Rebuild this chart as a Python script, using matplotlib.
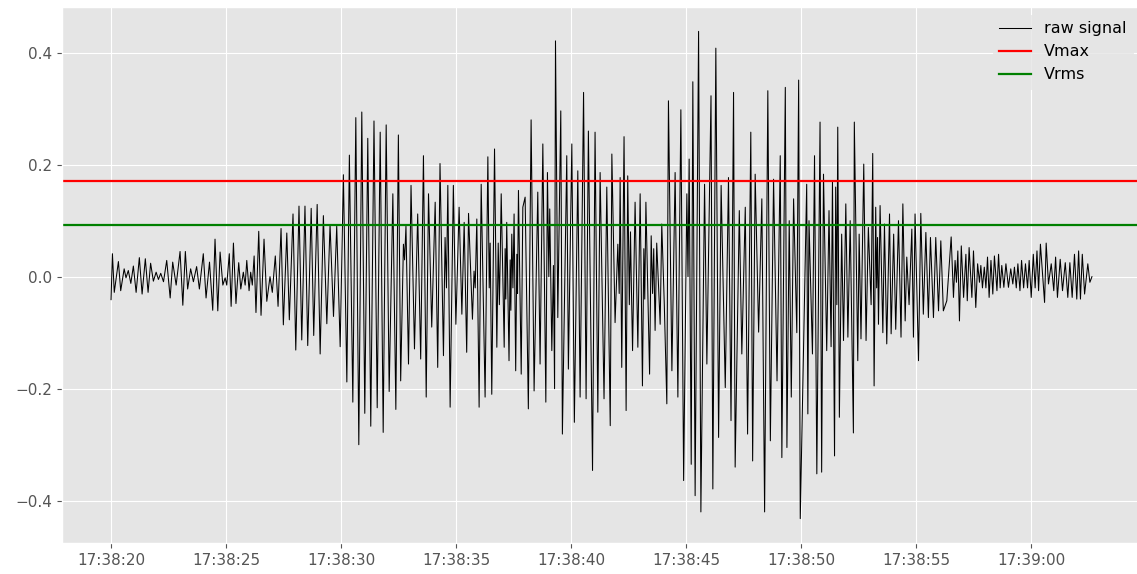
import numpy as np
import matplotlib
matplotlib.use("Agg")
import matplotlib.pyplot as plt
import matplotlib.dates as mdates

# ---- data (seconds after 17:38:20, signal value) ----
start_time = "2020-01-01T17:38:20"

t_sec = [
    0.00, 0.06, 0.14, 0.32, 0.42, 0.57, 0.65, 0.75, 0.86, 0.97, 1.09, 1.23, 1.35, 1.49, 1.61, 1.72, 1.84, 1.96,
    2.06, 2.16, 2.28, 2.42, 2.57, 2.68, 2.83, 3.00, 3.12, 3.23, 3.33, 3.46, 3.58, 3.72, 3.84, 4.01, 4.13, 4.28,
    4.42, 4.52, 4.64, 4.74, 4.86, 4.96, 5.03, 5.14, 5.22, 5.32, 5.43, 5.55, 5.64, 5.75, 5.83, 5.90, 6.00, 6.07,
    6.14, 6.22, 6.30, 6.42, 6.52, 6.65, 6.77, 6.91, 7.01, 7.14, 7.26, 7.39, 7.49, 7.64, 7.75, 7.91, 8.03, 8.17,
    8.29, 8.43, 8.55, 8.70, 8.81, 8.96, 9.09, 9.23, 9.38, 9.52, 9.67, 9.81, 9.96, 10.10, 10.25, 10.36, 10.51,
    10.64, 10.77, 10.90, 11.03, 11.16, 11.29, 11.43, 11.57, 11.70, 11.83, 11.96, 12.09, 12.25, 12.38, 12.49,
    12.59, 12.71, 12.76, 12.82, 12.93, 13.04, 13.19, 13.33, 13.46, 13.58, 13.70, 13.80, 13.94, 14.09, 14.20,
    14.30, 14.45, 14.52, 14.58, 14.64, 14.74, 14.88, 14.99, 15.13, 15.25, 15.35, 15.46, 15.54, 15.71, 15.78,
    15.83, 15.90, 16.00, 16.09, 16.26, 16.38, 16.55, 16.67, 16.77, 16.96, 17.09, 17.20, 17.30, 17.42, 17.47,
    17.52, 17.59, 17.71, 17.83, 17.90,
    18.00, 18.14, 18.26, 18.39, 18.55, 18.65, 18.77, 18.90, 18.97, 19.03, 19.07, 19.16, 19.23, 19.28, 19.32,
    19.42, 19.55, 19.62, 19.81, 19.88, 20.03, 20.14, 20.29, 20.39, 20.54, 20.65, 20.75, 20.93, 21.04, 21.16,
    21.26, 21.43, 21.55, 21.70, 21.77, 21.91, 22.03, 22.09, 22.13, 22.20, 22.30, 22.39, 22.46, 22.67, 22.78,
    22.90, 23.00, 23.10, 23.25, 23.41, 23.48, 23.65, 23.72, 23.87, 23.94, 24.05,
    24.16, 24.23, 24.38, 24.52, 24.64, 24.77, 24.89, 25.03, 25.08, 25.13, 25.22, 25.29, 25.39, 25.54, 25.64,
    25.80, 25.90, 26.08, 26.16, 26.29, 26.41, 26.52, 26.70, 26.84, 26.95, 27.06, 27.13, 27.31, 27.42, 27.57,
    27.67, 27.81, 27.89, 28.00, 28.15, 28.29, 28.41, 28.55, 28.66, 28.80, 28.95, 29.09, 29.16, 29.31, 29.38,
    29.48, 29.57, 29.67, 29.81, 29.89, 29.96,
    30.24, 30.29, 30.34, 30.49, 30.58, 30.68, 30.82, 30.89, 30.97, 31.11, 31.21, 31.30, 31.36, 31.45, 31.50,
    31.55, 31.59, 31.66, 31.76, 31.84, 31.94, 32.03, 32.13, 32.27, 32.31, 32.46, 32.52, 32.60, 32.72, 32.82,
    32.92, 33.04, 33.11, 33.17, 33.24, 33.36, 33.43, 33.55, 33.62, 33.72, 33.84, 33.91, 34.02, 34.11, 34.23,
    34.34, 34.42, 34.52, 34.59, 34.69, 34.81, 34.88, 34.95, 35.10, 35.20, 35.31, 35.42, 35.53, 35.62, 35.75,
    35.85, 35.97, 36.07, 36.18,
    36.33, 36.52, 36.62, 36.69, 36.75, 36.81, 36.88, 36.96, 37.06, 37.16, 37.22, 37.30, 37.42, 37.49, 37.59,
    37.67, 37.75, 37.81, 37.88, 37.96, 38.03, 38.10, 38.17, 38.25, 38.33, 38.40, 38.51, 38.58, 38.65, 38.72,
    38.81, 38.90, 39.01, 39.11, 39.20, 39.27, 39.35, 39.42, 39.51, 39.58, 39.67, 39.75, 39.84, 39.91, 40.00,
    40.09, 40.17, 40.25, 40.32, 40.40, 40.58, 40.65, 40.75, 40.87, 40.98, 41.06, 41.14, 41.26, 41.36, 41.48,
    41.59, 41.68, 41.78, 41.88, 41.98, 42.06, 42.14, 42.22, 42.32, 42.46, 42.55, 42.64,
]

signal = [
    -0.041, 0.041, -0.028, 0.027, -0.025, 0.014, -0.002, 0.011, -0.012, 0.019, -0.028, 0.034, -0.031, 0.032, -0.028, 0.024, -0.008, 0.008,
    -0.005, 0.006, -0.009, 0.029, -0.038, 0.026, -0.015, 0.045, -0.051, 0.045, -0.022, 0.014, -0.009, 0.018, -0.022, 0.041, -0.038, 0.026,
    -0.060, 0.067, -0.061, 0.044, -0.015, -0.002, -0.015, 0.041, -0.053, 0.060, -0.048, 0.025, -0.022, 0.008, -0.015, 0.029, -0.025, 0.008,
    -0.015, 0.037, -0.064, 0.081, -0.069, 0.067, -0.044, 0.000, -0.028, 0.037, -0.053, 0.086, -0.086, 0.078, -0.077, 0.112, -0.131, 0.126,
    -0.113, 0.126, -0.123, 0.122, -0.105, 0.129, -0.138, 0.109, -0.084, 0.093, -0.071, 0.090, -0.125, 0.182, -0.188, 0.217, -0.224,
    0.284, -0.300, 0.294, -0.244, 0.247, -0.267, 0.278, -0.234, 0.258, -0.278, 0.271, -0.205, 0.148, -0.237, 0.253,
    -0.186, 0.058, 0.030, 0.090, -0.156, 0.163, -0.129, 0.112, -0.147, 0.216, -0.215, 0.148, -0.090, 0.133, -0.162,
    0.202, -0.141, 0.070, -0.020, 0.163, -0.233, 0.163, -0.085, 0.124, -0.067, 0.097, -0.135, 0.113, -0.076, 0.010,
    -0.020, 0.103, -0.233, 0.165, -0.215, 0.214, -0.210, 0.228, -0.126, 0.148, -0.126, 0.097, -0.150, 0.076, -0.020,
    0.112, -0.168, 0.154, -0.174, 0.124,
    0.142, -0.236, 0.280, -0.204, 0.151, -0.156, 0.237, -0.224, 0.186, 0.000, 0.121, -0.132, 0.020, -0.200, 0.421,
    -0.073, 0.296, -0.281, 0.216, -0.165, 0.237, -0.260, 0.189, -0.215, 0.329, -0.218, 0.260, -0.346, 0.258, -0.242,
    0.186, -0.218, 0.160, -0.266, 0.219, -0.082, 0.058, -0.030, 0.177, -0.162, 0.250, -0.239, 0.180, -0.132, 0.133,
    -0.126, 0.148, -0.195, 0.133, -0.174, 0.073, -0.096, 0.060, -0.085, 0.094, -0.050,
    -0.227, 0.314, -0.168, 0.186, -0.215, 0.298, -0.364, 0.148, 0.000, 0.210, -0.335, 0.348, -0.391, 0.438, -0.420,
    0.165, -0.156, 0.323, -0.379, 0.408, -0.287, 0.163, -0.198, 0.177, -0.257, 0.329, -0.340, 0.118, -0.138, 0.124,
    -0.281, 0.258, -0.329, 0.183, -0.099, 0.139, -0.420, 0.332, -0.293, 0.174, -0.186, 0.216, -0.323, 0.338, -0.305,
    0.100, -0.215, 0.139, -0.100, 0.351, -0.432,
    0.165, -0.245, 0.100, -0.138, 0.216, -0.352, 0.276, -0.349, 0.183, -0.132, 0.118, -0.125, 0.171, -0.320, 0.160,
    -0.050, 0.267, -0.251, 0.076, -0.114, 0.130, -0.108, 0.100, -0.279, 0.276, -0.150, 0.076, -0.111, 0.201, -0.114,
    0.088, -0.050, 0.220, -0.195, 0.124, -0.085, 0.127, -0.100, 0.094, -0.120, 0.112, -0.102, 0.076, -0.094, 0.100,
    -0.108, 0.130, -0.079, 0.035, -0.050, 0.085, -0.108, 0.112, -0.150, 0.113, -0.067, 0.079, -0.073, 0.070, -0.073,
    0.070, -0.061, 0.064, -0.061,
    -0.043, 0.071, -0.037, 0.029, -0.010, 0.046, -0.079, 0.055, -0.037, 0.040, -0.043, 0.052, -0.037, 0.046, -0.055,
    0.023, -0.010, 0.020, -0.020, 0.017, -0.020, 0.035, -0.037, 0.029, -0.031, 0.037, -0.025, 0.040, -0.020, 0.020,
    -0.019, 0.023, -0.019, 0.014, -0.013, 0.017, -0.020, 0.023, -0.025, 0.029, -0.020, 0.023, -0.020, 0.029, -0.037,
    0.040, -0.020, 0.046, -0.025, 0.058, -0.046, 0.060, -0.013, 0.023, -0.025, 0.035, -0.037, 0.031, -0.025, 0.025,
    -0.037, 0.025, -0.037, 0.040, -0.040, 0.046, -0.040, 0.040, -0.031, 0.023, -0.010, 0.000,
]

# small fast wiggles seen in the dense (dark) parts of the trace
wiggle_t = [16.44, 16.48, 16.83, 16.88, 16.92, 17.13, 17.16, 17.35, 17.38, 17.64, 17.67,
            22.53, 22.58, 22.62, 23.16, 23.20, 23.54, 23.59, 33.28, 33.32]
wiggle_v = [-0.020, 0.060, 0.060, -0.050, 0.040, 0.050, -0.040, 0.030, -0.060, 0.040, -0.030,
            -0.050, 0.080, -0.020, 0.050, -0.040, -0.030, 0.050, -0.020, 0.070]

vmax_value = 0.170
vrms_value = 0.093

series_labels = ["raw signal", "Vmax", "Vrms"]

# ---- plot ----
plt.style.use("ggplot")
plt.rcParams["font.family"] = ["DejaVu Sans"]

fig = plt.figure(figsize=(11.37, 5.74), dpi=100)
ax = fig.add_axes([62 / 1137, 1 - 543 / 574, (1141 - 62) / 1137, (543 - 7) / 574])

all_t = np.concatenate([t_sec, wiggle_t])
all_v = np.concatenate([signal, wiggle_v])
order = np.argsort(all_t, kind="stable")
base = np.datetime64(start_time)
times = base + (all_t[order] * 1000).round().astype("timedelta64[ms]")

ax.plot(times, all_v[order], color="black", lw=0.75, label=series_labels[0])
ax.axhline(vmax_value, color="red", lw=1.6, label=series_labels[1])
ax.axhline(vrms_value, color="green", lw=1.6, label=series_labels[2])

ax.xaxis.set_major_locator(mdates.SecondLocator(bysecond=range(0, 60, 5)))
ax.xaxis.set_major_formatter(mdates.DateFormatter("%H:%M:%S"))
ax.tick_params(labelsize=11)

leg = ax.legend(loc="upper right", fontsize=11.5, frameon=True)
leg.get_frame().set_edgecolor("#E5E5E5")

fig.savefig("out.png", dpi=100)
